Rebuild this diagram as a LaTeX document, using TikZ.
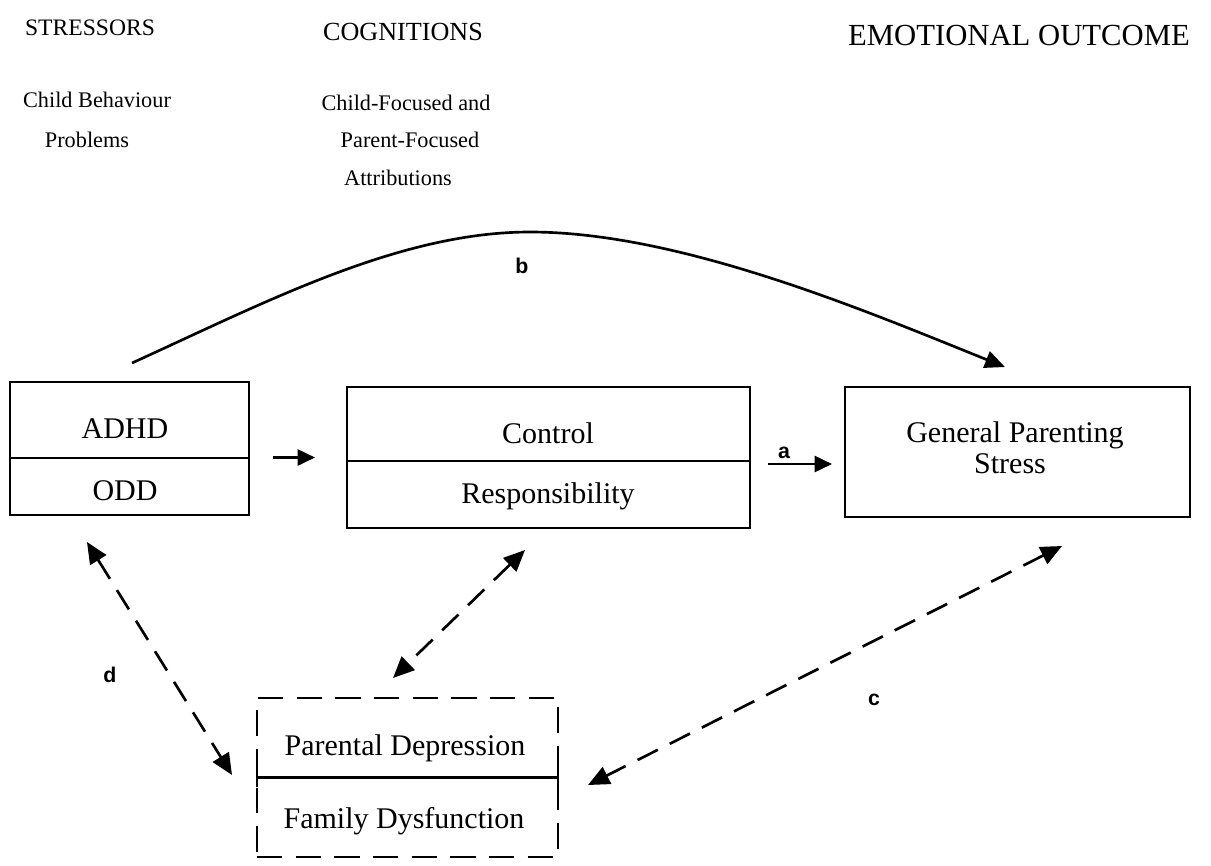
\documentclass[tikz,border=0pt]{standalone}
\usepackage{fontspec}
\setmainfont{Liberation Serif}
\newfontfamily\labfont{Liberation Sans}
\usetikzlibrary{arrows.meta,calc}
\begin{document}
\begin{tikzpicture}[x=0.75pt,y=-0.75pt,
  box/.style={draw, line width=1.6pt, inner sep=0pt, outer sep=0pt, rectangle},
  dbox/.style={box, dash pattern=on 19pt off 10pt},
  divider/.style={line width=1.6pt},
  txt/.style={anchor=base, inner sep=0pt, font=\fontsize{22.5}{27}\selectfont},
  sub/.style={anchor=base, inner sep=0pt, font=\fontsize{16.7}{20}\selectfont},
  hdr/.style={anchor=base, inner sep=0pt},
  lab/.style={anchor=base, inner sep=0pt, font=\labfont\bfseries\fontsize{16}{19}\selectfont},
  solidarr/.style={line width=2pt, -{Triangle[length=13pt,width=12pt]}},
  curvearr/.style={line width=2pt, -{Triangle[length=15pt,width=13pt]}},
  dasharr/.style={line width=2pt, dash pattern=on 17pt off 10pt,
    {Triangle[length=16pt,width=14pt]}-{Triangle[length=16pt,width=14pt]}},
]
\fill[white] (0,0) rectangle (1211,865);
\useasboundingbox (0,0) rectangle (1211,865);

% headers
\node[hdr, font=\fontsize{17.7}{21}\selectfont] (h1) at (90,35) {STRESSORS};
\node[hdr, font=\fontsize{19.6}{23}\selectfont] (h2) at (403,40) {COGNITIONS};
\node[hdr, font=\fontsize{23}{27}\selectfont] (h3) at (1019,45) {EMOTIONAL OUTCOME};
\node[sub] (s1a) at (97,107) {Child Behaviour};
\node[sub] (s1b) at (87,147) {Problems};
\node[sub] (s2a) at (406,110) {Child-Focused and};
\node[sub] (s2b) at (410,147) {Parent-Focused};
\node[sub] (s2c) at (398,185) {Attributions};

% boxes
\node[box, minimum width=179.25pt, minimum height=99.75pt] (box1) at (129.5,448.5) {};
\draw[divider] (box1.west |- 0,458) -- (box1.east |- 0,458);
\node[txt] (adhd) at (125,438) {ADHD};
\node[txt] (odd) at (125,500) {ODD};

\node[box, minimum width=302.25pt, minimum height=105.75pt] (box2) at (548.5,457.5) {};
\draw[divider] (box2.west |- 0,461) -- (box2.east |- 0,461);
\node[txt] (ctrl) at (548,443) {Control};
\node[txt] (resp) at (548,503) {Responsibility};

\node[box, minimum width=258.75pt, minimum height=97.5pt] (box3) at (1017.5,452) {};
\node[txt] (gps1) at (1015,442) {General Parenting};
\node[txt] (gps2) at (1010,473) {Stress};

\node[dbox, minimum width=225.75pt, minimum height=119.25pt] (dbox) at (407.5,777.5) {};
\draw[divider] (dbox.west) -- (dbox.east);
\draw[divider] ($(dbox.west)+(0,-9)$) -- ($(dbox.west)+(0,9)$);
\draw[divider] ($(dbox.east)+(0,-9)$) -- ($(dbox.east)+(0,9)$);
\node[txt] (pdep) at (405,755) {Parental Depression};
\node[txt] (fdys) at (404,828) {Family Dysfunction};

% solid arrows
\draw[solidarr, shorten <=18pt, shorten >=24pt] (box1.east |- box2.west) -- (box2.west);
\draw[solidarr] ($(box2.east)+(18,6.5)$) -- ($(box3.west)+(-13,12)$);
\node[lab] (la) at (784,458) {a};

% curve b
\coordinate (bs) at ($(box1.north west)+(122,-19)$);
\coordinate (bp) at (530,232);
\coordinate (be) at ($(box3.north west)+(160,-20)$);
\draw[curvearr] (bs) .. controls (268,301) and (400,232) .. (bp)
  .. controls (680,232) and (866,311) .. (be);
\node[lab] (lb) at (522,273) {b};

% dashed double arrows
\draw[dasharr] ($(box1.south west)+(77,27)$) -- ($(dbox.west)+(-25,-2.5)$);
\node[lab] (ld) at (110,682) {d};
\draw[dasharr] ($(box2.south)+(-23.5,22)$) -- ($(dbox.north)+(-14.5,-20)$);
\draw[dasharr] ($(box3.south)+(44.5,29)$) -- ($(dbox.east)+(30,7.5)$);
\node[lab] (lc) at (874,705) {c};
\end{tikzpicture}
\end{document}
